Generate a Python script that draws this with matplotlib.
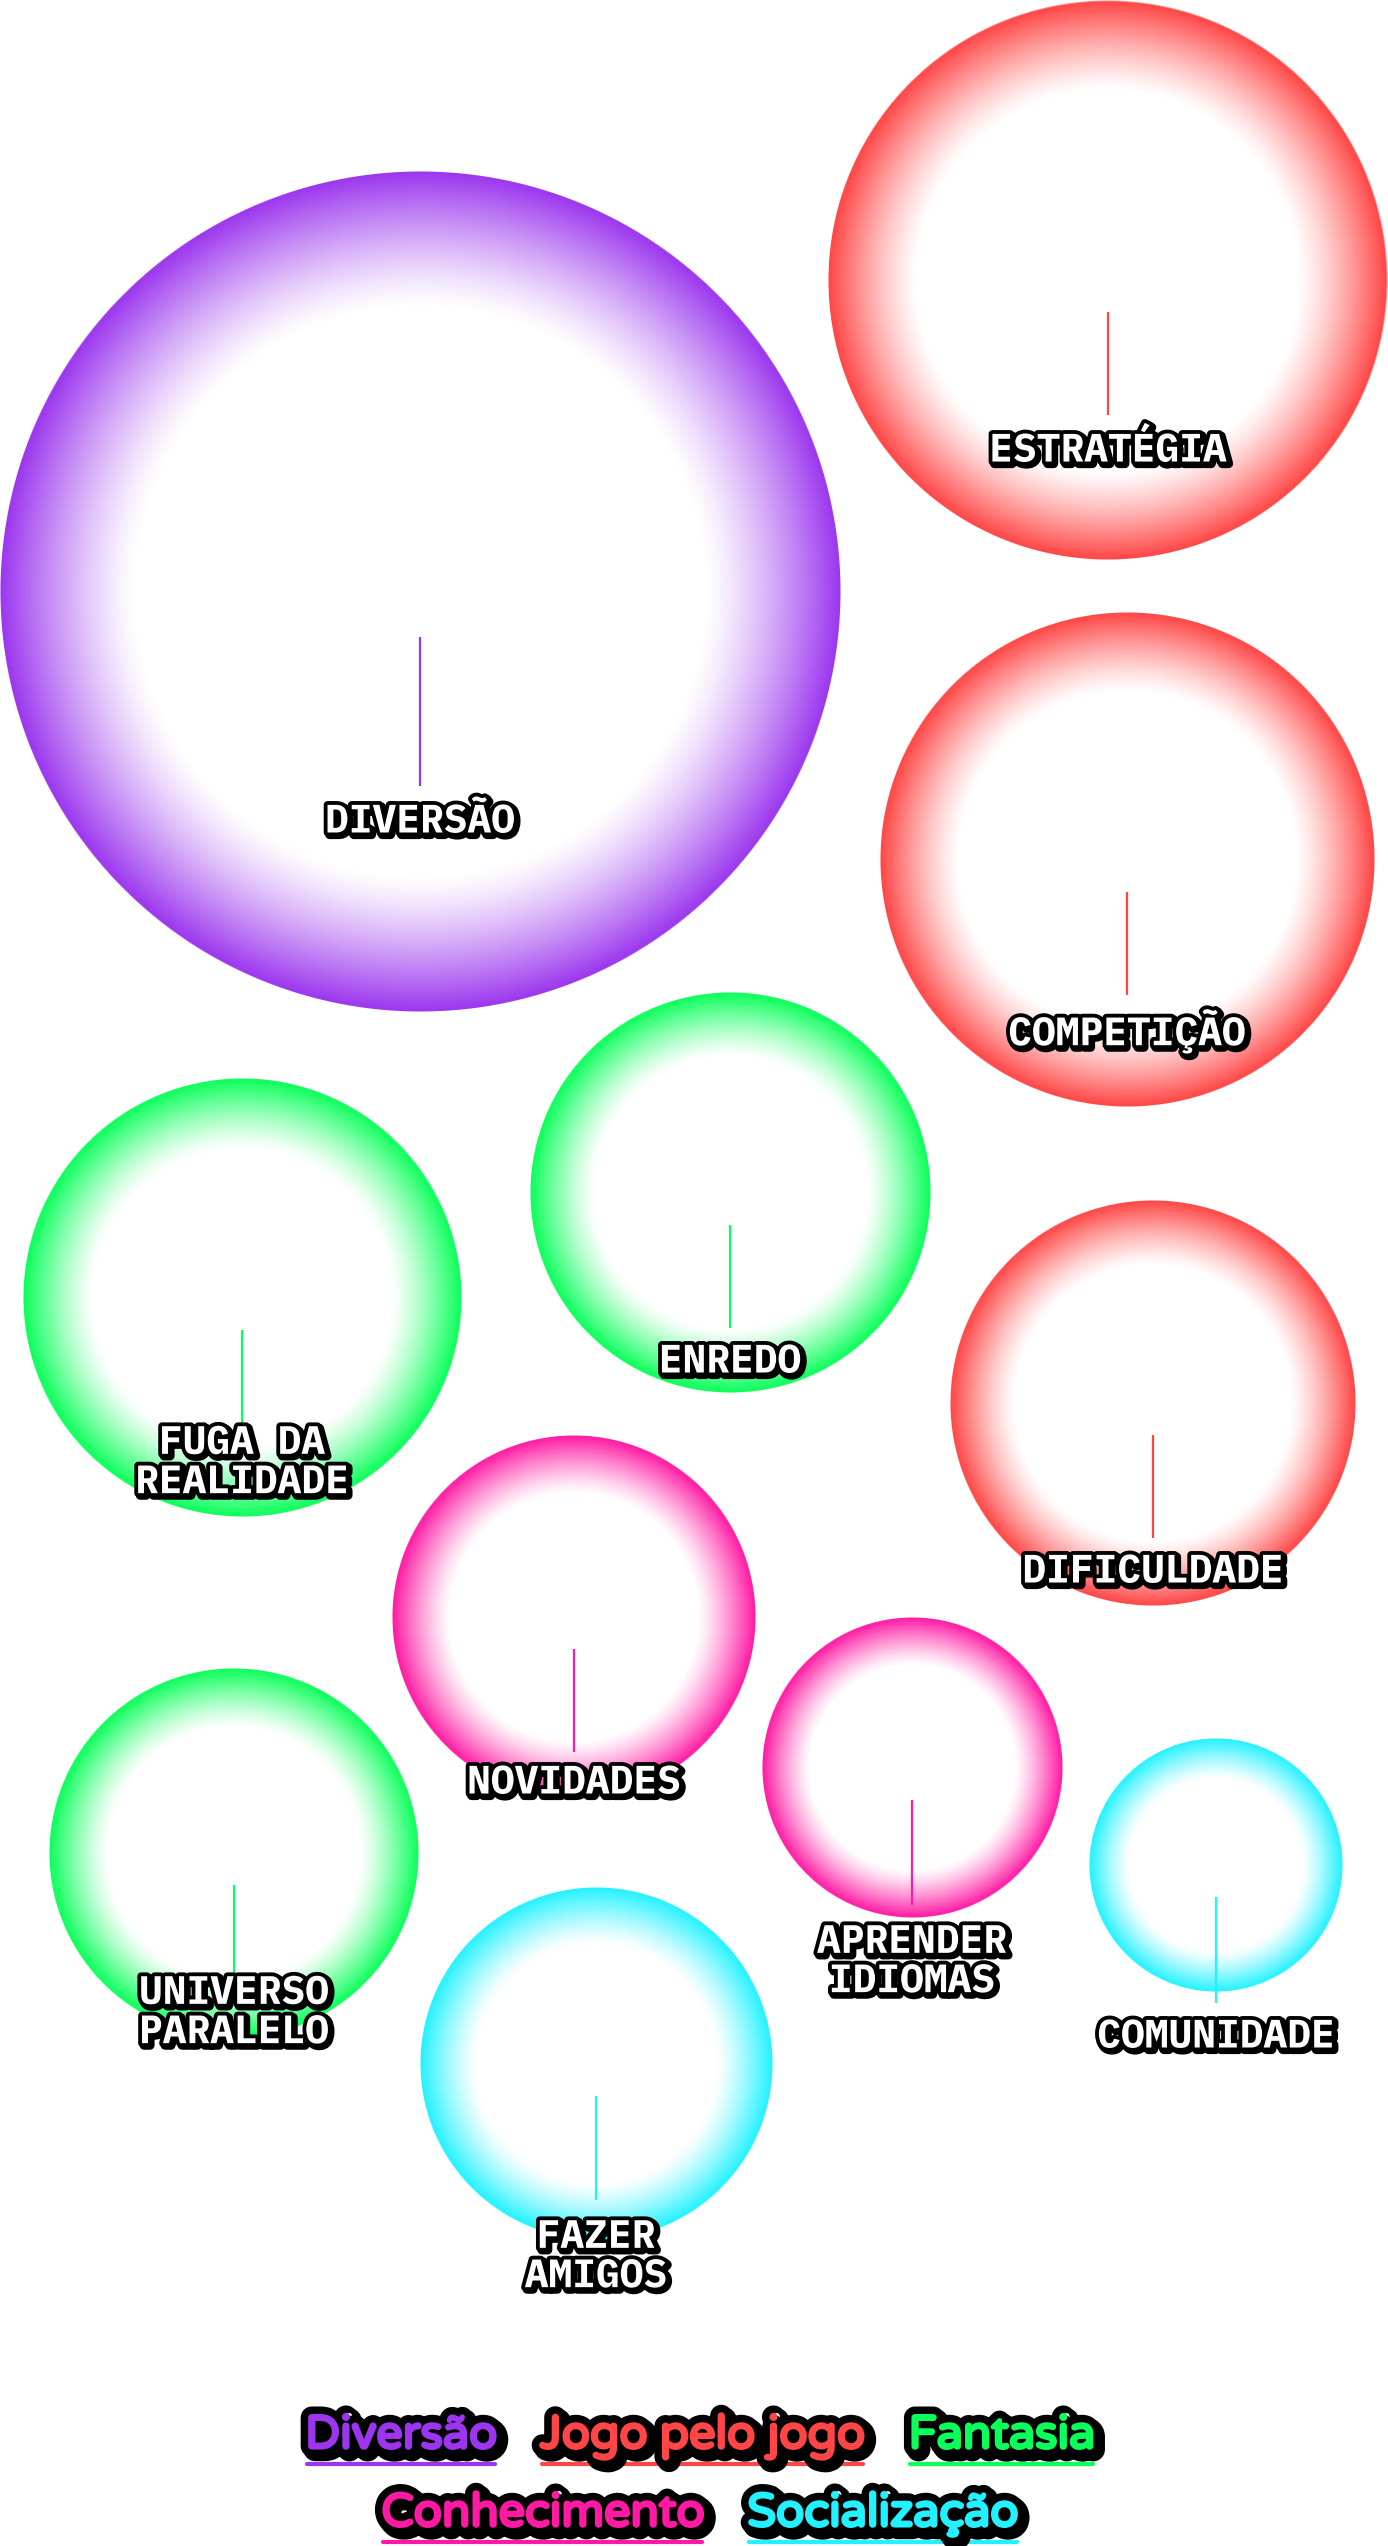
import numpy as np
import matplotlib
matplotlib.use("Agg")
import matplotlib.pyplot as plt
import matplotlib.patheffects as pe
from matplotlib import font_manager as fm

# ---------------- data ----------------
categorias = ["Diversão", "Jogo pelo jogo", "Fantasia", "Conhecimento", "Socialização"]
cores_categorias = ["#9B36EE", "#FF4545", "#0AFF5A", "#FF19A3", "#22F2FF"]

rotulos = ["DIVERSÃO", "ESTRATÉGIA", "COMPETIÇÃO", "ENREDO", "FUGA DA\nREALIDADE",
           "DIFICULDADE", "NOVIDADES", "APRENDER\nIDIOMAS", "COMUNIDADE",
           "UNIVERSO\nPARALELO", "FAZER\nAMIGOS"]
grupo = [0, 1, 1, 2, 2, 1, 3, 3, 4, 2, 4]
valores = [176, 78, 61, 40, 48, 41, 33, 22.5, 16, 34, 31]

# ---------------- layout (pixel positions of the packed bubbles) ----------------
centro_x = [420, 1108, 1127, 730, 242, 1153, 574, 912, 1216, 234, 596]
centro_y = [592, 280, 860, 1193, 1298, 1403, 1617, 1768, 1865, 1853, 2064]
rotulo_dy = [230, 170, 171, 169, 165, 169, 166, 194, 172, 160, 193]
haste_ini = [45, 32, 32, 32, 32, 32, 32, 32, 32, 32, 32]
haste_fim = [194, 135, 135, 135, 133, 135, 135, 137, 138, 136, 136]
escala_raio = 31.66

W, H = 1388, 2546
avail = set(f.name for f in fm.fontManager.ttflist)
mono = next((f for f in ["IBM Plex Mono", "Roboto Mono", "JetBrains Mono", "DejaVu Sans Mono"] if f in avail), "DejaVu Sans Mono")
leg_font = next((f for f in ["Varela Round", "Lato", "DejaVu Sans"] if f in avail), "DejaVu Sans")

fig = plt.figure(figsize=(W / 100, H / 100), dpi=100)
ax = fig.add_axes([0, 0, 1, 1])
ax.set_xlim(0, W)
ax.set_ylim(H, 0)
ax.set_aspect("equal")
ax.axis("off")


def hex2rgb(h):
    h = h.lstrip("#")
    return np.array([int(h[i:i + 2], 16) / 255 for i in (0, 2, 4)])


for i, lab in enumerate(rotulos):
    cx, cy = centro_x[i], centro_y[i]
    r = escala_raio * np.sqrt(valores[i])
    col = hex2rgb(cores_categorias[grupo[i]])
    n = int(2 * r) + 2
    xs = np.linspace(-r - 1, r + 1, n)
    X, Y = np.meshgrid(xs, xs)
    d = np.sqrt(X ** 2 + Y ** 2)
    t = d / r
    f = np.clip((t - 0.68) / 0.32, 0, 1) ** 1.25
    img = np.ones((n, n, 4))
    for k in range(3):
        img[..., k] = 1 - f * (1 - col[k])
    img[..., 3] = np.clip(r - d + 0.5, 0, 1)
    ax.imshow(img, extent=[cx - r - 1, cx + r + 1, cy + r + 1, cy - r - 1],
              interpolation="bilinear", zorder=1)

for i, lab in enumerate(rotulos):
    cx, cy = centro_x[i], centro_y[i]
    cor = cores_categorias[grupo[i]]
    ax.plot([cx, cx], [cy + haste_ini[i], cy + haste_fim[i]], color=cor, lw=1.6,
            solid_capstyle="butt", zorder=2)

for i, lab in enumerate(rotulos):
    cx, cy = centro_x[i], centro_y[i]
    ax.text(cx, cy + rotulo_dy[i], lab, ha="center", va="center", multialignment="center",
            family=mono, fontweight="bold", fontsize=28.5, color="white", linespacing=1.08,
            zorder=5,
            path_effects=[pe.Stroke(linewidth=6.5, foreground="black", offset=(1.5, -1.5)),
                          pe.Stroke(linewidth=5.5, foreground="black"),
                          pe.Normal()])

# ---------------- legend ----------------
linhas = [[0, 1, 2], [3, 4]]
ys = [2436, 2514]
gap = 43
centro_leg = 700
renderer = fig.canvas.get_renderer()
for row, y in zip(linhas, ys):
    textos = []
    larguras = []
    for g in row:
        cor = cores_categorias[g]
        t = ax.text(0, y, categorias[g], ha="left", va="center", family=leg_font,
                    fontsize=33.5, color=cor, zorder=6,
                    path_effects=[pe.Stroke(linewidth=14, foreground="black", offset=(2.5, -2.5)),
                                  pe.Stroke(linewidth=13, foreground="black"),
                                  pe.Stroke(linewidth=2.2, foreground=cor),
                                  pe.Normal()])
        bb = t.get_window_extent(renderer)
        textos.append(t)
        larguras.append(bb.width)
    total = sum(larguras) + gap * (len(row) - 1)
    x = centro_leg - total / 2
    for t, w, g in zip(textos, larguras, row):
        t.set_x(x)
        ax.plot([x + 2, x + w - 2], [y + 28, y + 28], color=cores_categorias[g], lw=3,
                solid_capstyle="round", zorder=5)
        x += w + gap

fig.savefig("out.png", dpi=100, facecolor="white")
